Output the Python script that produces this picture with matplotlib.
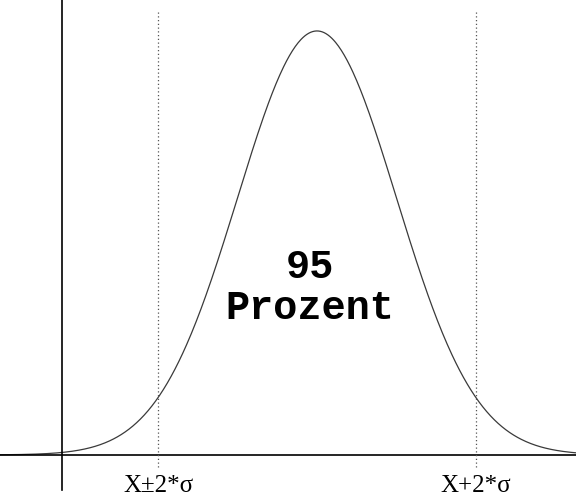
import numpy as np
import matplotlib
matplotlib.use("Agg")
import matplotlib.pyplot as plt

# distribution parameters (in sigma units)
mu = 0.0
sigma = 1.0
k = 2  # +/- 2 sigma
bound_labels = ["X\u00b12*\u03c3", "X+2*\u03c3"]
center_text = "95\nProzent"

fig = plt.figure(figsize=(5.76, 4.99), dpi=100)
ax = fig.add_axes([0, 0, 1, 1])
ax.set_xlim(-3.99, 3.26)
ax.set_ylim(-0.104, 1.073)
ax.axis("off")

x = np.linspace(-3.99, 3.26, 600)
y = np.exp(-0.5 * ((x - mu) / sigma) ** 2)
ax.plot(x, y, color="#3a3a3a", lw=0.9, solid_capstyle="round")

# axes lines
ax.axhline(0, color="black", lw=1.2)
ax.plot([-3.21, -3.21], [-0.083, 1.073], color="black", lw=1.2)

# +/- 2 sigma dotted lines
for xv in (mu - k * sigma, mu + k * sigma):
    ax.plot([xv, xv], [-0.028, 1.045], color="#555555", lw=0.9, ls=(0, (1, 2)))

ax.text(mu - k * sigma, -0.074, bound_labels[0], ha="center", va="center",
        fontsize=18, family="Liberation Serif")
ax.text(mu + k * sigma, -0.074, bound_labels[1], ha="center", va="center",
        fontsize=18, family="Liberation Serif")

ax.text(-0.09, 0.395, center_text, ha="center", va="center", fontsize=29,
        family="Liberation Mono", fontweight="bold", linespacing=1.12)

fig.savefig("out.png", dpi=100)
